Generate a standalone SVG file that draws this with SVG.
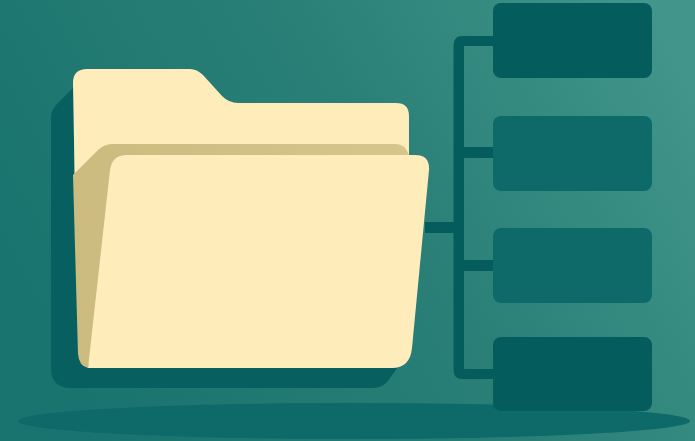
<svg xmlns="http://www.w3.org/2000/svg" width="695" height="441" viewBox="0 0 695 441">
<style>
.cream{fill:#feecbb}.dark{fill:#055c5c}.mid{fill:#0e6a68}.link{fill:#055c5c}
</style>
<defs>
<linearGradient id="bg" x1="0" y1="0.55" x2="1" y2="0.2">
<stop offset="0" stop-color="#19736e"/>
<stop offset="0.55" stop-color="#2a8077"/>
<stop offset="1" stop-color="#41958a"/>
</linearGradient>
<linearGradient id="olive" x1="0" y1="0" x2="1" y2="0">
<stop offset="0" stop-color="#cbbb7f"/>
<stop offset="1" stop-color="#d6c68c"/>
</linearGradient>
</defs>
<rect width="695" height="441" fill="url(#bg)"/>
<ellipse id="ground" cx="354" cy="421" rx="336" ry="18" class="mid"/>
<g id="connectors">
<path class="link" d="M425 222H453.500V46C453.500 39 457 36 462 36H494V46H464V147H494V158H464V260H494V271H464V369H494V379H462C457 379 453.500 376 453.500 370V233H425Z"/>
</g>
<g id="box-1"><rect x="493" y="3" width="159" height="75" rx="8" class="dark"/></g>
<g id="box-2"><rect x="493" y="116" width="159" height="75" rx="8" class="mid"/></g>
<g id="box-3"><rect x="493" y="228" width="159" height="75" rx="8" class="mid"/></g>
<g id="box-4"><rect x="493" y="337" width="159" height="74" rx="8" class="dark"/></g>
<g id="folder">
<path d="M74 87L57 104Q51 110 51 118V368Q51 388 71 388H373Q382 388 388 381L398 367V200H74Z" fill="#085f5f"/>
<path class="cream" d="M73 83Q73 69 87 69H190Q197 69 203 75L222 96Q229 103 238 103H396Q409 103 409 116V160H100V200H75Z"/>
<path fill="url(#olive)" d="M73 175L97 151Q104 144 112 144H396Q405 144 409 155V200H120L88 368Q79 366 78 354Z"/>
<path class="cream" d="M110 170Q112 155 127 155H415Q430 155 429 170L412 348Q410 368 392 368H88Z"/>
</g>
</svg>
